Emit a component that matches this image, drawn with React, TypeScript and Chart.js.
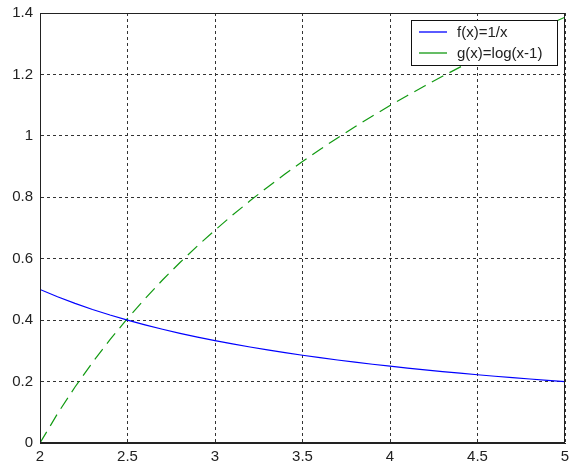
import React, { useEffect, useRef } from "react";
import { Chart, registerables } from "chart.js";

Chart.register(...registerables);

const xValues = [2, 2.1, 2.2, 2.3, 2.4, 2.5, 2.6, 2.7, 2.8, 2.9, 3, 3.1, 3.2, 3.3, 3.4, 3.5, 3.6, 3.7, 3.8, 3.9, 4, 4.1, 4.2, 4.3, 4.4, 4.5, 4.6, 4.7, 4.8, 4.9, 5];
const fValues = [0.5, 0.476, 0.4545, 0.4348, 0.4167, 0.4, 0.3846, 0.3704, 0.3571, 0.3448, 0.3333, 0.3226, 0.3125, 0.303, 0.2941, 0.2857, 0.2778, 0.2703, 0.2632, 0.2564, 0.25, 0.2439, 0.2381, 0.2326, 0.2273, 0.2222, 0.2174, 0.2128, 0.2083, 0.2041, 0.2];
const gValues = [0, 0.0953, 0.1823, 0.2624, 0.3365, 0.4055, 0.47, 0.5306, 0.5878, 0.6419, 0.6931, 0.7419, 0.7885, 0.8329, 0.8755, 0.9163, 0.9555, 0.9933, 1.0296, 1.0647, 1.0986, 1.1314, 1.1632, 1.1939, 1.2238, 1.2528, 1.2809, 1.3083, 1.335, 1.361, 1.3863];
const seriesLabels = ["f(x)=1/x", "g(x)=log(x-1)"];
const seriesColors = ["#0000ff", "#119a11"];

const FONT = "'Liberation Sans', Arial, sans-serif";
const fmt = (v: any) => String(Math.round(Number(v) * 10) / 10);

const boxPlugin = {
  id: "boxAndLegend",
  afterDraw(chart: any) {
    const { ctx, chartArea } = chart;
    ctx.save();
    ctx.strokeStyle = "#222";
    ctx.lineWidth = 1;
    ctx.setLineDash([]);
    ctx.strokeRect(
      Math.round(chartArea.left) + 0.5,
      Math.round(chartArea.top) + 0.5,
      Math.round(chartArea.right - chartArea.left) - 1,
      Math.round(chartArea.bottom - chartArea.top) - 1
    );
    const lx = Math.round(chartArea.right) - 154;
    const ly = Math.round(chartArea.top) + 7;
    const lw = 146;
    const lh = 45;
    ctx.fillStyle = "#fff";
    ctx.fillRect(lx, ly, lw, lh);
    ctx.strokeStyle = "#111";
    ctx.strokeRect(lx + 0.5, ly + 0.5, lw, lh);
    ctx.font = `15px ${FONT}`;
    ctx.textBaseline = "middle";
    ctx.textAlign = "left";
    chart.data.datasets.forEach((ds: any, i: number) => {
      const y = ly + 12 + i * 21;
      ctx.strokeStyle = ds.borderColor;
      ctx.lineWidth = 1.3;
      ctx.beginPath();
      ctx.moveTo(lx + 8, y);
      ctx.lineTo(lx + 36, y);
      ctx.stroke();
      ctx.fillStyle = "#222";
      ctx.fillText(ds.label, lx + 46, y + 1);
    });
    ctx.restore();
  },
};

export default function App() {
  const canvasRef = useRef<HTMLCanvasElement | null>(null);

  useEffect(() => {
    if (!canvasRef.current) return;
    const chart = new Chart(canvasRef.current, {
      type: "line",
      data: {
        datasets: [
          {
            label: seriesLabels[0],
            data: xValues.map((x, i) => ({ x, y: fValues[i] })),
            borderColor: seriesColors[0],
            borderWidth: 1.2,
            pointRadius: 0,
            tension: 0,
          },
          {
            label: seriesLabels[1],
            data: xValues.map((x, i) => ({ x, y: gValues[i] })),
            borderColor: seriesColors[1],
            borderWidth: 1.2,
            borderDash: [13, 7],
            pointRadius: 0,
            tension: 0,
          },
        ],
      },
      options: {
        animation: false,
        responsive: false,
        maintainAspectRatio: false,
        layout: { padding: { top: 13, right: 4, left: 0, bottom: 0 } },
        plugins: { legend: { display: false }, tooltip: { enabled: false } },
        scales: {
          x: {
            type: "linear",
            min: 2,
            max: 5,
            ticks: {
              stepSize: 0.5,
              color: "#222",
              font: { family: FONT, size: 15 },
              padding: 5,
              maxRotation: 0,
              callback: fmt,
            },
            grid: { color: "#333", lineWidth: 1, tickLength: 0 },
            border: { display: true, color: "#222", dash: [3, 3] },
            afterFit(scale: any) {
              scale.height = 24;
              scale.paddingLeft = 0;
              scale.paddingRight = 0;
            },
          },
          y: {
            type: "linear",
            min: 0,
            max: 1.4,
            ticks: {
              stepSize: 0.2,
              color: "#222",
              font: { family: FONT, size: 15 },
              padding: 7,
              callback: fmt,
            },
            grid: { color: "#333", lineWidth: 1, tickLength: 0 },
            border: { display: true, color: "#222", dash: [3, 3] },
            afterFit(scale: any) {
              scale.width = 40;
              scale.paddingTop = 0;
              scale.paddingBottom = 0;
            },
          },
        },
      },
      plugins: [boxPlugin],
    });
    return () => chart.destroy();
  }, []);

  return (
    <div style={{ position: "fixed", left: 0, top: 0, width: 569, height: 467, background: "#fff" }}>
      <canvas ref={canvasRef} width={569} height={467} style={{ width: 569, height: 467 }} />
    </div>
  );
}
